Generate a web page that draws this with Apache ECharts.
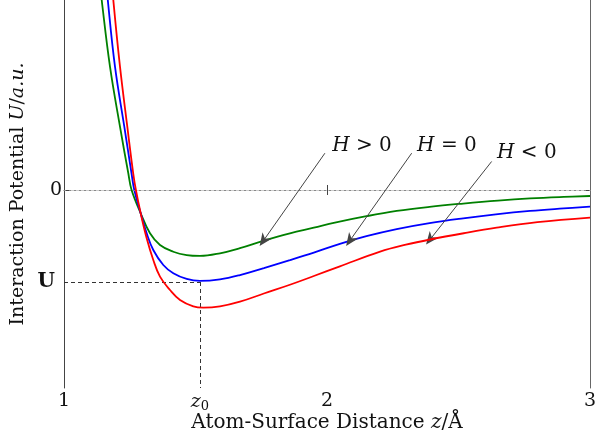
<!DOCTYPE html>
<html>
<head>
<meta charset="utf-8">
<script src="https://cdn.jsdelivr.net/npm/echarts@6/dist/echarts.min.js"></script>
<style>
html,body{margin:0;padding:0;background:#fff;}
#chart{width:595px;height:441px;}
</style>
</head>
<body>
<div id="chart"></div>
<script>
// Curve data: [z (Å), U (a.u.)]
var curveHpos = [[1.1266,2.5],[1.1433,2.065],[1.1749,1.340],[1.2129,0.688],[1.2445,0.182],[1.2570,0],[1.2916,-0.253],[1.3270,-0.471],[1.3650,-0.598],[1.4156,-0.671],[1.4665,-0.708],[1.5171,-0.717],[1.593,-0.688],[1.669,-0.632],[1.758,-0.552],[1.859,-0.471],[1.95,-0.41],[2.03,-0.355],[2.15,-0.285],[2.265,-0.228],[2.39,-0.183],[2.518,-0.147],[2.65,-0.115],[2.772,-0.092],[2.9,-0.075],[3.0,-0.065]];
var curveHzero = [[1.1529,2.5],[1.1665,2.065],[1.1939,1.340],[1.2293,0.688],[1.2567,0.182],[1.2673,0],[1.2916,-0.253],[1.3144,-0.471],[1.3395,-0.652],[1.3776,-0.815],[1.4156,-0.905],[1.4665,-0.967],[1.5171,-0.988],[1.593,-0.971],[1.669,-0.924],[1.76,-0.848],[1.859,-0.762],[1.95,-0.68],[2.049,-0.585],[2.15,-0.502],[2.265,-0.425],[2.39,-0.36],[2.518,-0.308],[2.65,-0.262],[2.772,-0.228],[2.9,-0.2],[3.0,-0.18]];
var curveHneg = [[1.1749,2.5],[1.1875,2.065],[1.2129,1.340],[1.2407,0.688],[1.2631,0.182],[1.2734,0],[1.2916,-0.253],[1.3144,-0.525],[1.3395,-0.761],[1.3650,-0.942],[1.4030,-1.087],[1.4411,-1.196],[1.4916,-1.265],[1.5297,-1.279],[1.593,-1.265],[1.669,-1.214],[1.76,-1.125],[1.859,-1.03],[1.95,-0.935],[2.049,-0.83],[2.202,-0.67],[2.30,-0.595],[2.392,-0.538],[2.52,-0.47],[2.645,-0.41],[2.8,-0.35],[3.0,-0.30]];

var seriesNames = ['H > 0', 'H = 0', 'H < 0'];
var xTickValues = [1, 1.517, 2, 3];
var xTickLabels = ['1', '{i|z}{s|0}', '2', '3'];
var yTickValues = [0, -1];
var yTickLabels = ['0', '{b|U}'];
var z0 = 1.517;
var Umin = -1;

// annotation arrows: [tail, tip] and label positions
var arrows = [
  [[1.992, 0.40], [1.758, -0.552]],
  [[2.322, 0.40], [2.087, -0.55]],
  [[2.626, 0.31], [2.392, -0.538]]
];
var labelPos = [[2.133, 0.478], [2.456, 0.478], [2.760, 0.40]];
var labelTexts = ['{i|H} > 0', '{i|H} = 0', '{i|H} < 0'];

var X_MIN = 1, X_MAX = 3, Y_MIN = -2.152, Y_MAX = 2.065;
var FONT = 'DejaVu Serif';
var ARROW = 'path://M0,0 L6,14 L0,10 L-6,14 Z';

var chart = echarts.init(document.getElementById('chart'), null, {renderer: 'canvas'});

var axisLineStyle = {color: '#444', width: 1};

var option = {
  animation: false,
  backgroundColor: '#fff',
  grid: {left: 64, right: 5, top: 0, bottom: 53, containLabel: false, outerBoundsMode: 'none'},
  xAxis: [{
    type: 'value', min: X_MIN, max: X_MAX, position: 'bottom',
    splitLine: {show: false},
    axisLine: {show: true, lineStyle: axisLineStyle},
    axisTick: {show: true, inside: true, length: 5, customValues: [2], lineStyle: axisLineStyle},
    axisLabel: {
      show: true, margin: 4, customValues: xTickValues,
      fontFamily: FONT, fontSize: 19, color: '#111',
      formatter: function (v) {
        var i = xTickValues.indexOf(v);
        return i >= 0 ? xTickLabels[i] : '';
      },
      rich: {
        i: {fontFamily: FONT, fontStyle: 'italic', fontSize: 19, color: '#111'},
        s: {fontFamily: FONT, fontSize: 13, color: '#111', padding: [8, 0, 0, 0]}
      }
    },
    name: 'Atom-Surface Distance {i|z}/Å',
    nameLocation: 'middle', nameGap: 25, nameMoveOverlap: false,
    nameTextStyle: {fontFamily: FONT, fontSize: 20, color: '#111',
      rich: {i: {fontFamily: FONT, fontStyle: 'italic', fontSize: 20, color: '#111'}}}
  }, {
    type: 'value', min: X_MIN, max: X_MAX, position: 'top',
    splitLine: {show: false},
    axisLine: {show: true, lineStyle: {color: '#ccc', width: 1}},
    axisTick: {show: true, inside: true, length: 5, customValues: [2], lineStyle: axisLineStyle},
    axisLabel: {show: false}
  }],
  yAxis: [{
    type: 'value', min: Y_MIN, max: Y_MAX, position: 'left',
    splitLine: {show: false},
    axisLine: {show: true, lineStyle: axisLineStyle},
    axisTick: {show: true, inside: true, length: 5, customValues: [0], lineStyle: axisLineStyle},
    axisLabel: {
      show: true, margin: 2, customValues: yTickValues,
      fontFamily: FONT, fontSize: 19, color: '#111',
      formatter: function (v) {
        var i = yTickValues.indexOf(v);
        return i >= 0 ? yTickLabels[i] : '';
      },
      rich: {b: {fontFamily: FONT, fontWeight: 'bold', fontSize: 20, color: '#111', padding: [0, 7, 0, 0]}}
    },
    name: 'Interaction Potential {i|U}/{i|a.u.}',
    nameLocation: 'middle', nameGap: 36, nameRotate: 90, nameMoveOverlap: false,
    nameTextStyle: {fontFamily: FONT, fontSize: 19, color: '#111',
      rich: {i: {fontFamily: FONT, fontStyle: 'italic', fontSize: 19, color: '#111'}}}
  }, {
    type: 'value', min: Y_MIN, max: Y_MAX, position: 'right',
    splitLine: {show: false},
    axisLine: {show: true, lineStyle: {color: '#666', width: 1}},
    axisTick: {show: true, inside: true, length: 5, customValues: [0], lineStyle: axisLineStyle},
    axisLabel: {show: false}
  }],
  series: [
    {
      type: 'line', data: [], z: 1, silent: true,
      markLine: {
        silent: true, symbol: 'none', animation: false,
        label: {show: false},
        data: [
          [{coord: [X_MIN, 0], lineStyle: {type: [2, 3], color: '#888', width: 1}}, {coord: [X_MAX, 0]}],
          [{coord: [X_MIN, Umin], lineStyle: {type: [4, 3], color: '#333', width: 1}}, {coord: [z0, Umin]}],
          [{coord: [z0, Umin], lineStyle: {type: [4, 3], color: '#333', width: 1}}, {coord: [z0, Y_MIN]}]
        ]
      }
    },
    {name: seriesNames[0], type: 'line', data: curveHpos, smooth: 0.4, symbol: 'none', z: 3,
      lineStyle: {color: '#008000', width: 1.8}},
    {name: seriesNames[1], type: 'line', data: curveHzero, smooth: 0.4, symbol: 'none', z: 4,
      lineStyle: {color: '#0000ff', width: 1.8}},
    {name: seriesNames[2], type: 'line', data: curveHneg, smooth: 0.4, symbol: 'none', z: 5,
      lineStyle: {color: '#ff0000', width: 1.8}},
    {
      type: 'line', data: [], z: 6, silent: true,
      markLine: {
        silent: true, animation: false,
        symbol: ['none', ARROW], symbolSize: 13, symbolKeepAspect: true,
        label: {show: false},
        lineStyle: {color: '#444', width: 1, type: 'solid', opacity: 1},
        data: arrows.map(function (a) { return [{coord: a[0]}, {coord: a[1]}]; })
      },
      markPoint: {
        silent: true, animation: false,
        symbol: 'circle', symbolSize: 0,
        label: {
          show: true, position: 'inside', fontFamily: FONT, fontSize: 20, color: '#111',
          rich: {i: {fontFamily: FONT, fontStyle: 'italic', fontSize: 20, color: '#111'}}
        },
        data: labelPos.map(function (p, k) {
          return {coord: p, value: labelTexts[k], label: {formatter: labelTexts[k]}};
        })
      }
    }
  ]
};
chart.setOption(option);
</script>
</body>
</html>
